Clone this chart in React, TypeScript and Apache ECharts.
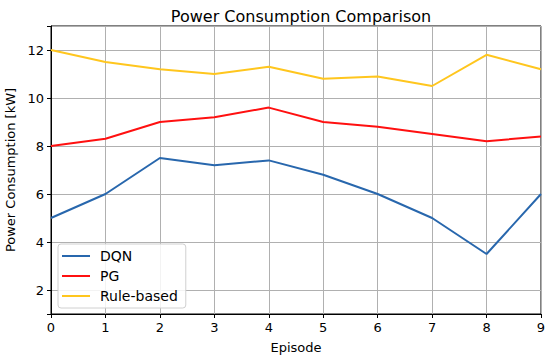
import React, { useEffect, useRef } from "react";
import * as echarts from "echarts";

const episodes = [0, 1, 2, 3, 4, 5, 6, 7, 8, 9];
const dqn = [5, 6, 7.5, 7.2, 7.4, 6.8, 6, 5, 3.5, 6];
const pg = [8, 8.3, 9, 9.2, 9.6, 9, 8.8, 8.5, 8.2, 8.4];
const ruleBased = [12, 11.5, 11.2, 11, 11.3, 10.8, 10.9, 10.5, 11.8, 11.2];
const seriesNames = ["DQN", "PG", "Rule-based"];
const seriesColors = ["#2867ad", "#ff1010", "#ffc61e"];

const FONT = "DejaVu Sans";

export default function App() {
  const ref = useRef<HTMLDivElement>(null);
  useEffect(() => {
    if (!ref.current) return;
    const chart = echarts.init(ref.current, undefined, { renderer: "svg" });
    const datasets = [dqn, pg, ruleBased];
    chart.setOption({
      animation: false,
      backgroundColor: "#ffffff",
      title: {
        text: "Power Consumption Comparison",
        left: 296,
        textAlign: "center",
        top: 3,
        textStyle: { fontFamily: FONT, fontSize: 16, fontWeight: "normal", color: "#000" },
      },
      grid: {
        left: 51,
        right: 9,
        top: 26,
        bottom: 46,
        containLabel: false,
        outerBoundsMode: "none",
        show: true,
        borderColor: "#000",
        borderWidth: 1,
        backgroundColor: "transparent",
      },
      legend: {
        orient: "vertical",
        left: 58,
        top: 244,
        padding: [4, 8, 4, 4],
        itemWidth: 28,
        itemHeight: 2,
        itemGap: 4,
        icon: "rect",
        data: seriesNames,
        backgroundColor: "rgba(255,255,255,0.85)",
        borderColor: "#d0d0d0",
        borderWidth: 1,
        borderRadius: 3,
        textStyle: { fontFamily: FONT, fontSize: 14, color: "#000", padding: [0, 0, 0, 5], lineHeight: 16 },
      },
      xAxis: {
        type: "value",
        min: 0,
        max: 9,
        interval: 1,
        name: "Episode",
        nameLocation: "middle",
        nameGap: 27,
        nameTextStyle: { fontFamily: FONT, fontSize: 13, color: "#000" },
        axisLine: { show: true, lineStyle: { color: "#000", width: 1 } },
        axisTick: { show: true, inside: false, length: 4, lineStyle: { color: "#000" } },
        axisLabel: { fontFamily: FONT, fontSize: 13, color: "#000", margin: 7 },
        splitLine: { show: true, lineStyle: { color: "#b0b0b0", width: 1 } },
      },
      yAxis: {
        type: "value",
        min: 1,
        max: 13,
        splitNumber: 6,
        name: "Power Consumption [kW]",
        nameLocation: "middle",
        nameGap: 30,
        nameTextStyle: { fontFamily: FONT, fontSize: 13, color: "#000" },
        axisLine: { show: true, lineStyle: { color: "#000", width: 1 } },
        axisTick: { show: true, inside: false, length: 4, lineStyle: { color: "#000" } },
        axisLabel: {
          fontFamily: FONT,
          fontSize: 13,
          color: "#000",
          margin: 7,
          formatter: (v: number) => (v % 2 === 0 ? String(v) : ""),
        },
        splitLine: { show: true, lineStyle: { color: "#b0b0b0", width: 1 } },
      },
      series: datasets.map((d, i) => ({
        name: seriesNames[i],
        type: "line",
        data: episodes.map((e, j) => [e, d[j]]),
        showSymbol: false,
        symbol: "none",
        lineStyle: { color: seriesColors[i], width: 2 },
        itemStyle: { color: seriesColors[i] },
        z: 3,
      })),
    });
    return () => chart.dispose();
  }, []);
  return <div ref={ref} style={{ width: 550, height: 360, position: "absolute", left: 0, top: 0 }} />;
}
